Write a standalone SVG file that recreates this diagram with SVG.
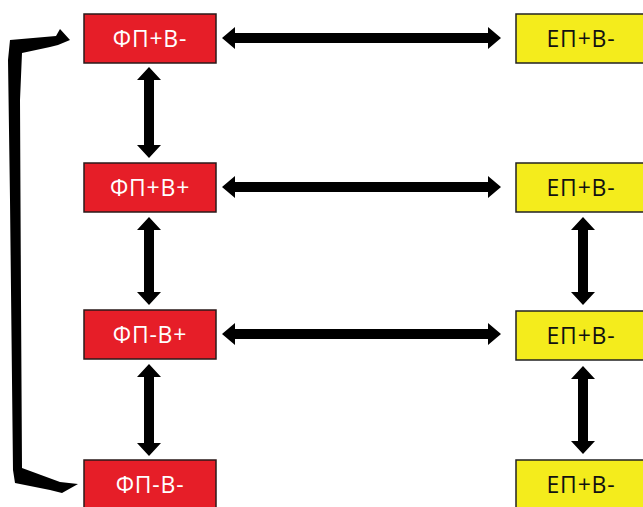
<svg xmlns="http://www.w3.org/2000/svg" width="643" height="507" viewBox="0 0 643 507">
<style>
.red rect{fill:#e61e28;stroke:#2a1a1a;stroke-width:1.5}
.yel rect{fill:#f4ec1c;stroke:#222;stroke-width:1.5}
text{font-family:"Open Sans","Noto Sans",sans-serif;font-size:23px;letter-spacing:0.8px;text-anchor:middle}
.red text{fill:#fff}
.yel text{fill:#111}
.arr path{fill:#000}
</style>
<rect width="643" height="507" fill="#fff"/>
<g id="n1" class="red"><rect x="84" y="14" width="132" height="49"/><text x="150" y="47">ФП+В-</text></g>
<g id="n2" class="red"><rect x="84" y="163" width="132" height="49"/><text x="150" y="196">ФП+В+</text></g>
<g id="n3" class="red"><rect x="84" y="310" width="132" height="49"/><text x="150" y="343">ФП-В+</text></g>
<g id="n4" class="red"><rect x="84" y="460" width="132" height="49"/><text x="150" y="493">ФП-В-</text></g>
<g id="n5" class="yel"><rect x="516" y="14" width="132" height="49"/><text x="581" y="47">ЕП+В-</text></g>
<g id="n6" class="yel"><rect x="516" y="163" width="132" height="49"/><text x="581" y="196">ЕП+В-</text></g>
<g id="n7" class="yel"><rect x="516" y="311" width="132" height="49"/><text x="581" y="344">ЕП+В-</text></g>
<g id="n8" class="yel"><rect x="516" y="460" width="132" height="49"/><text x="581" y="493">ЕП+В-</text></g>
<g id="connectors" class="arr">
<path d="M222 38 L235 27 L235 33 L488 33 L488 27 L501 38 L488 49 L488 43 L235 43 L235 49 Z"/>
<path d="M222 187 L235 176 L235 182 L488 182 L488 176 L501 187 L488 198 L488 192 L235 192 L235 198 Z"/>
<path d="M222 334 L235 323 L235 329 L488 329 L488 323 L501 334 L488 345 L488 339 L235 339 L235 345 Z"/>
<path d="M149 67 L161 80 L154 80 L154 145 L161 145 L149 158 L137 145 L144 145 L144 80 L137 80 Z"/>
<path d="M149 217 L161 230 L154 230 L154 292 L161 292 L149 305 L137 292 L144 292 L144 230 L137 230 Z"/>
<path d="M149 364 L161 377 L154 377 L154 443 L161 443 L149 456 L137 443 L144 443 L144 377 L137 377 Z"/>
<path d="M583 217 L595 230 L588 230 L588 292 L595 292 L583 305 L571 292 L578 292 L578 230 L571 230 Z"/>
<path d="M583 366 L595 379 L588 379 L588 441 L595 441 L583 454 L571 441 L578 441 L578 379 L571 379 Z"/>
<path d="M70 40 L60 29 L56 36 L10 40 L8 60 L10 200 L13 470 L15 483 L50 490 L62 493 L78 484 L60 482 L22 468 L21 300 L20 100 L22 53 L50 47 L58 45 Z"/>
</g>
</svg>
